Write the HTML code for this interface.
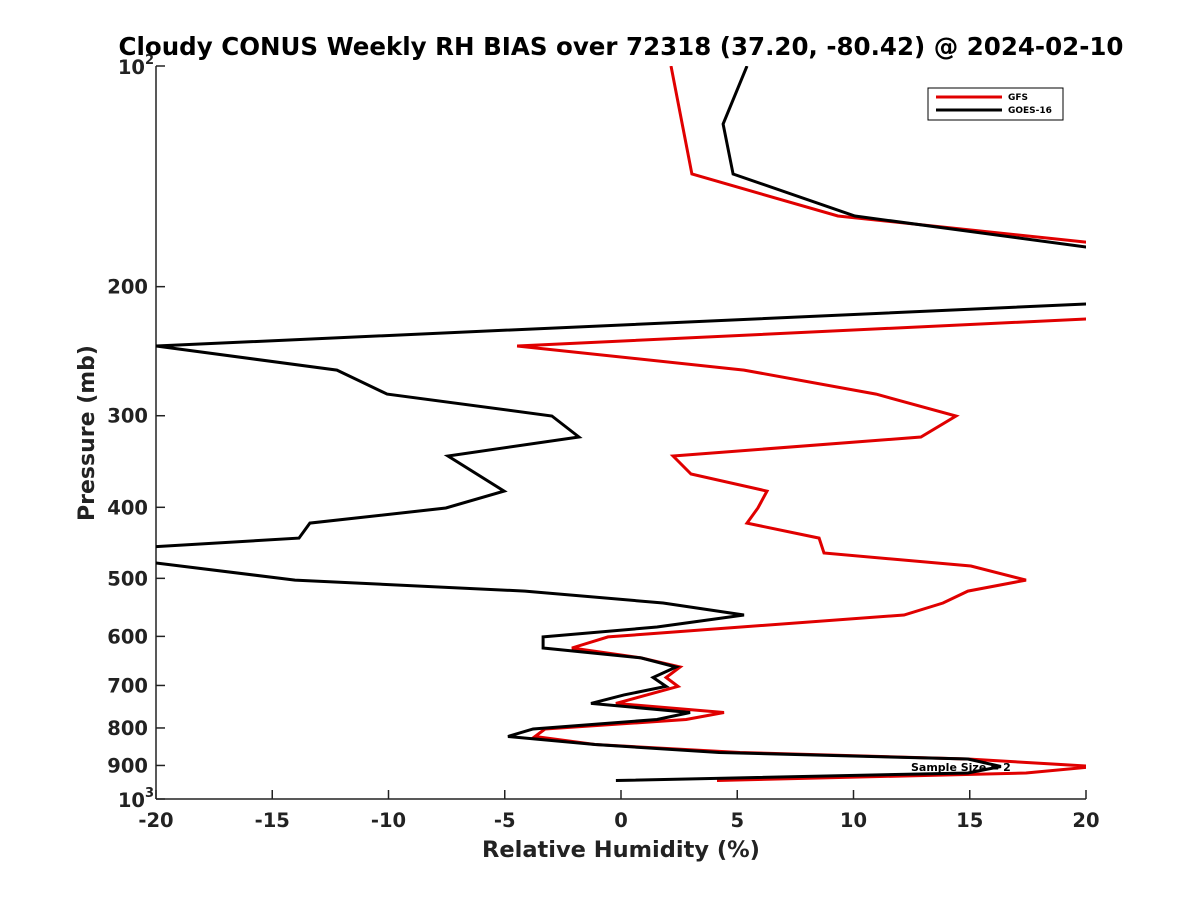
<!DOCTYPE html>
<html><head><meta charset="utf-8"><style>
body{margin:0;background:#fff}
svg text{font-family:"DejaVu Sans","Liberation Sans",sans-serif;font-weight:bold;fill:#222}
</style></head><body>
<svg id="chart" width="1200" height="900" viewBox="0 0 1200 900" xmlns="http://www.w3.org/2000/svg">
<rect width="1200" height="900" fill="#fff"/>
<defs><clipPath id="plotclip"><rect x="156" y="66" width="930" height="733"/></clipPath></defs>
<text x="621" y="55" text-anchor="middle" font-size="24.5" style="fill:#000">Cloudy CONUS Weekly RH BIAS over 72318 (37.20, -80.42) @ 2024-02-10</text>
<g id="axes"></g>
<g id="series" clip-path="url(#plotclip)"></g>
<text x="911" y="771" font-size="11" style="fill:#000">Sample Size = 2</text>
<g id="series-top" clip-path="url(#plotclip)"></g>
<text transform="translate(94,433) rotate(-90)" text-anchor="middle" font-size="22">Pressure (mb)</text>
<text x="621" y="857" text-anchor="middle" font-size="22.5">Relative Humidity (%)</text>
<g>
<rect x="928" y="88" width="135" height="32" fill="#fff" stroke="#000" stroke-width="1"/>
<line x1="936" y1="97" x2="1002" y2="97" stroke="#e00000" stroke-width="3"/>
<text x="1008" y="100" font-size="9" style="fill:#000">GFS</text>
<line x1="936" y1="110" x2="1002" y2="110" stroke="#000" stroke-width="3"/>
<text x="1008" y="113" font-size="9" style="fill:#000">GOES-16</text>
</g>
</svg>
<script>
const xTicks=[-20,-15,-10,-5,0,5,10,15,20];
const yTicks=[200,300,400,500,600,700,800,900];
const gfsPressure=[100,140.4,160.2,173.9,205.7,221.4,241,259.9,280.3,300.3,320.7,340.5,360.3,380.1,400.9,420.3,440.6,461.7,481,502.8,520.4,540.3,561,601,622.3,642,660.6,682.8,702,740.6,762,779,802.6,821.7,842.6,864.2,882,903,921.5,943.6];
const gfsValues=[2.15,3.05,9.33,20,42,20,-4.47,5.29,10.97,14.41,12.90,2.24,3.01,6.28,5.89,5.42,8.52,8.73,15.05,17.42,14.92,13.85,12.17,-0.56,-2.11,0.86,2.54,1.94,2.45,-0.22,4.43,2.80,-3.27,-3.70,-1.12,5.12,14.92,20.39,17.42,4.13];
const goesPressure=[100,120,140.4,160.2,176.6,202,211.2,241,259.9,280.3,300.3,320.7,340.5,380.1,400.9,420.3,440.6,460,476.4,502.8,520.4,540.3,561,582.5,601,622.3,642,660.6,682.8,702,721,740.6,762,779,802.6,821.7,842.6,864.2,882,903,921.5,943.6];
const goesValues=[5.42,4.39,4.82,10.06,20,33.7,20,-20,-12.22,-10.06,-2.97,-1.81,-7.44,-5.03,-7.53,-13.38,-13.85,-23.7,-20,-14.02,-4.13,1.81,5.29,1.55,-3.35,-3.35,0.86,2.37,1.38,1.94,0.13,-1.29,2.97,1.55,-3.78,-4.86,-1.12,4.22,14.92,16.34,14.92,-0.22];

const NS='http://www.w3.org/2000/svg';
const X0=156,X1=1086,Y0=66,Y1=799;
function xs(v){return X0+(v+20)/40*(X1-X0);}
function ys(p){return Y0+(Math.log10(p)-2)*(Y1-Y0);}
function mk(tag,attrs,parent){const e=document.createElementNS(NS,tag);for(const k in attrs)e.setAttribute(k,attrs[k]);parent.appendChild(e);return e;}
const axes=document.getElementById('axes');
const yAxis=mk('line',{x1:X0,y1:Y0,x2:X0,y2:Y1,stroke:'#222','stroke-width':1.5},axes);


const xAxis=mk('line',{x1:X0,y1:Y1,x2:X1,y2:Y1,stroke:'#222','stroke-width':1.5},axes);


xTicks.forEach(v=>{
  const x=xs(v);
  const t=mk('line',{x1:x,y1:Y1,x2:x,y2:Y1-9,stroke:'#222','stroke-width':1.5},axes);
  
  
  const l=mk('text',{x:x,y:Y1+28,'text-anchor':'middle','font-size':19.5},axes);
  l.textContent=String(v);
  
  
});
[100,1000].forEach(p=>{
  const y=ys(p);
  const t=mk('line',{x1:X0,y1:y,x2:X0+9,y2:y,stroke:'#222','stroke-width':1.5},axes);
  
  
  const l=mk('text',{x:X0-11,y:y+8,'text-anchor':'end','font-size':19.5},axes);
  l.textContent='10';
  
  
  const s=mk('text',{x:X0-11,y:y-2,'font-size':13},axes);
  s.textContent=p===100?'2':'3';
  
  
});
yTicks.forEach(p=>{
  const y=ys(p);
  const t=mk('line',{x1:X0,y1:y,x2:X0+9,y2:y,stroke:'#222','stroke-width':1.5},axes);
  
  
  const l=mk('text',{x:X0-8,y:y+7,'text-anchor':'end','font-size':19.5},axes);
  l.textContent=String(p);
  
  
});
function line(ps,vs,color,name,parent){
  const pts=ps.map((p,i)=>xs(vs[i]).toFixed(1)+','+ys(p).toFixed(1)).join(' ');
  const pl=mk('polyline',{points:pts,fill:'none',stroke:color,'stroke-width':3,'stroke-linejoin':'miter'},parent);
  
  
}
line(gfsPressure,gfsValues,'#e00000','gfs-line',document.getElementById('series'));
line(goesPressure,goesValues,'#000','goes16-line',document.getElementById('series-top'));
</script>
</body></html>
